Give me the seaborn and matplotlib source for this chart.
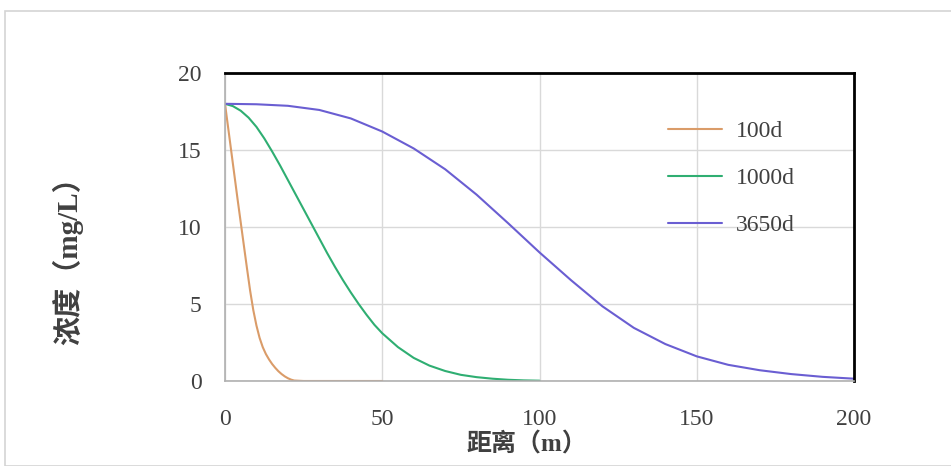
import pandas as pd
import seaborn as sns
import matplotlib.pyplot as plt
from matplotlib.patches import Rectangle

# distance (m) and concentration (mg/L)
x_100d = [0, 1, 2, 3, 4, 5, 6, 7, 8, 9, 10, 11, 12, 13, 14, 15, 16, 17, 18, 19, 20, 21, 22,
          25, 30, 40, 50]
c_100d = [18, 16.45, 14.9, 13.35, 11.8, 10.3, 8.8, 7.3, 5.85, 4.6, 3.6, 2.8, 2.2, 1.75, 1.4,
          1.1, 0.85, 0.63, 0.45, 0.3, 0.18, 0.09, 0.03, 0, 0, 0, 0]

x_1000d = [0, 2.5, 5, 7.5, 10, 12.5, 15, 17.5, 20, 22.5, 25, 27.5, 30, 32.5, 35, 37.5, 40,
           42.5, 45, 47.5, 50, 55, 60, 65, 70, 75, 80, 85, 90, 95, 100]
c_1000d = [18, 17.85, 17.55, 17.1, 16.5, 15.75, 14.9, 14.0, 13.05, 12.1, 11.15, 10.2, 9.25,
           8.3, 7.4, 6.55, 5.75, 5.0, 4.3, 3.65, 3.1, 2.2, 1.5, 1.0, 0.65, 0.4, 0.25, 0.15,
           0.08, 0.04, 0.02]

x_3650d = [0, 10, 20, 30, 40, 50, 60, 70, 80, 90, 100, 110, 120, 130, 140, 150, 160, 170,
           180, 190, 200]
c_3650d = [18, 17.97, 17.87, 17.6, 17.05, 16.2, 15.1, 13.75, 12.1, 10.25, 8.35, 6.55, 4.85,
           3.45, 2.4, 1.6, 1.05, 0.7, 0.45, 0.27, 0.15]

series = ["100d", "1000d", "3650d"]
colors = ["#DA9C69", "#2FAE72", "#6A5ED2"]

df = pd.concat([
    pd.DataFrame({"x": x_100d, "c": c_100d, "t": "100d"}),
    pd.DataFrame({"x": x_1000d, "c": c_1000d, "t": "1000d"}),
    pd.DataFrame({"x": x_3650d, "c": c_3650d, "t": "3650d"}),
])

sns.set_style("whitegrid")
plt.rcParams['font.family'] = ['Liberation Serif', 'Noto Sans CJK SC']

fig = plt.figure(figsize=(9.51, 4.66), dpi=100)
# light frame around the whole picture
fig.patches.append(Rectangle((5 / 951, 0), 1, 1 - 11 / 466, transform=fig.transFigure,
                             fill=False, edgecolor="#d4d4d4", linewidth=1.2))
ax = fig.add_axes([225 / 951, 1 - 381 / 466, 629 / 951, 308 / 466])

sns.lineplot(data=df, x="x", y="c", hue="t", hue_order=series,
             palette=dict(zip(series, colors)), linewidth=1.5, ax=ax, sort=False)

ax.set_xlim(0, 200)
ax.set_ylim(0, 20)
ax.set_xticks([0, 50, 100, 150, 200])
ax.set_yticks([0, 5, 10, 15, 20])
ax.grid(True, color="#d9d9d9", linewidth=1)
ax.tick_params(axis="x", labelsize=17, pad=20, colors="#404040", length=0)
ax.tick_params(axis="y", labelsize=17, pad=17, colors="#404040", length=0)

for s in ["top", "right"]:
    ax.spines[s].set_color("black")
    ax.spines[s].set_linewidth(2)
for s in ["left", "bottom"]:
    ax.spines[s].set_color("#b0b0b0")
    ax.spines[s].set_linewidth(1.2)

ax.set_xlabel("距离（m）", fontsize=18, fontweight="bold", color="#404040", va="center")
ax.set_ylabel("浓度（mg/L）", fontsize=21, fontweight="bold", color="#404040", va="center")
ax.xaxis.set_label_coords(0.48, -0.207)
ax.yaxis.set_label_coords(-0.25, 0.412)

leg = ax.legend(loc="upper left", bbox_to_anchor=(0.67, 0.915), frameon=False,
                fontsize=17, handlelength=2.3, labelspacing=1.08, handletextpad=0.6)
for t in leg.get_texts():
    t.set_color("#404040")

fig.savefig("out.png", dpi=100)
